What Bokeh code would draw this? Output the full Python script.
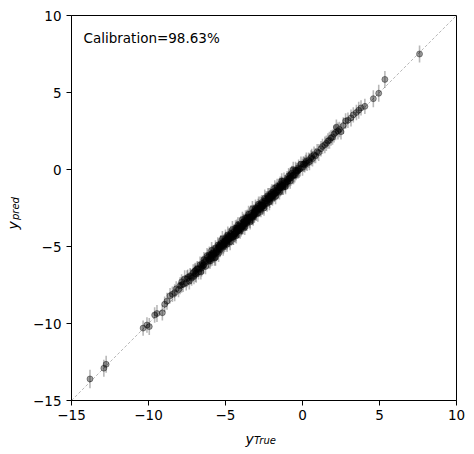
import math
from bokeh.plotting import figure
from bokeh.models import Range1d, FixedTicker, Label, ColumnDataSource
from bokeh.embed import file_html
from bokeh.resources import INLINE

# ---- data ----
y_true = [
    -13.8, -12.9, -12.75, -10.35, -10.1, -9.95, -9.6, -9.45, -9.1, -8.95,
    -8.8, -8.6, -8.45, -8.3, -8.2, -8.05, -7.95, -7.85, -7.75, -7.65,
    -7.55, -7.45, -7.35, -7.3, -7.2, -7.1, -7.05, -6.95, -6.9, -6.8,
    -6.75, -6.65, -6.6, -6.5, -6.45, -6.4, -6.3, -6.25, -6.2, -6.1,
    -6.05, -6.0, -5.95, -5.9, -5.85, -5.8, -5.75, -5.7, -5.65, -5.6,
    -5.55, -5.5, -5.45, -5.4, -5.35, -5.3, -5.25, -5.2, -5.15, -5.1,
    -5.05, -5.0, -4.95, -4.9, -4.85, -4.8, -4.75, -4.7, -4.65, -4.6,
    -4.55, -4.5, -4.45, -4.4, -4.35, -4.3, -4.25, -4.2, -4.15, -4.1,
    -4.05, -4.0, -3.95, -3.9, -3.85, -3.8, -3.75, -3.7, -3.65, -3.6,
    -3.55, -3.5, -3.45, -3.4, -3.35, -3.3, -3.25, -3.2, -3.15, -3.1,
    -3.05, -3.0, -2.95, -2.9, -2.85, -2.8, -2.75, -2.7, -2.65, -2.6,
    -2.55, -2.5, -2.45, -2.4, -2.35, -2.3, -2.25, -2.2, -2.15, -2.1,
    -2.05, -2.0, -1.95, -1.9, -1.85, -1.8, -1.75, -1.7, -1.65, -1.6,
    -1.55, -1.5, -1.45, -1.4, -1.35, -1.3, -1.2, -1.15, -1.1, -1.0,
    -0.95, -0.9, -0.85, -0.8, -0.7, -0.65, -0.6, -0.5, -0.45, -0.4,
    -0.3, -0.25, -0.15, -0.1, 0.0, 0.05, 0.15, 0.25, 0.3, 0.4,
    0.45, 0.55, 0.65, 0.75, 0.85, 0.95, 1.05, 1.2, 1.3, 1.45,
    1.55, 1.65, 1.75, 1.85, 1.95, 2.05, 2.15, 2.2, 2.3, 2.4,
    2.5, 2.65, 2.8, 2.95, 3.15, 3.3, 3.5, 3.65, 3.8, 4.05,
    4.6, 4.95, 5.35, 7.6, -6.85, -5.65, -4.8, -3.95, -3.05, -2.25,
    -5.95, -5.45, -4.65, -4.25, -3.65, -2.85, -2.05, -1.45, -1.25, -0.75,
    -6.55, -6.15, -5.78, -5.32, -4.98, -4.62, -4.28, -3.92, -3.58, -3.22,
    -2.88, -2.52, -2.18, -1.82, -1.48, -1.12, -0.78, -0.42, -7.5, -7.0,
    -5.6, -5.05, -4.45, -3.85, -3.25, -2.65, -2.05, -1.35, 0.2, 0.6,
    -6.95, -6.7, -6.35, -6.08, -5.88, -5.52, -5.22, -4.92, -4.72, -4.48,
    -4.18, -3.98, -3.72, -3.48, -3.28, -3.02, -2.78, -2.42, -2.12, -1.92,
    -1.68, -1.38, -1.08, -0.88, -0.58, -0.32, -5.12, -4.38, -3.62, -2.72,
    -6.42, -5.72, -5.02, -4.32, -3.82, -3.12, -2.32, -1.58, -0.98, -0.22,
    -7.85, -7.25, -6.55, -5.95, -5.42, -4.88, -4.12, -3.42, -2.62, -1.78,
    -5.3, -4.75, -4.2, -3.7, -3.15, -2.6, -2.0, -1.3, -0.6, 0.1,
]
y_pred = [
    -13.6, -12.9, -12.65, -10.3, -10.1, -10.2, -9.45, -9.35, -9.3, -8.75,
    -8.55, -8.2, -8.1, -8.0, -7.75, -7.8, -7.55, -7.3, -7.45, -7.1,
    -7.35, -7.0, -7.25, -6.9, -7.05, -6.7, -6.95, -6.55, -6.8, -6.45,
    -6.65, -6.2, -6.65, -6.1, -6.25, -5.85, -6.3, -5.9, -5.6, -5.95,
    -5.55, -5.95, -5.65, -5.25, -5.75, -5.4, -5.5, -5.75, -5.1, -5.4,
    -5.2, -4.9, -5.45, -4.95, -5.2, -4.8, -4.95, -4.5, -5.05, -4.7,
    -4.85, -4.45, -4.6, -4.85, -4.25, -4.55, -4.3, -4.7, -4.15, -4.3,
    -3.9, -4.4, -4.05, -4.15, -3.8, -4.3, -3.9, -3.6, -3.95, -3.65,
    -4.0, -3.5, -3.65, -3.25, -3.7, -3.4, -3.75, -3.15, -3.4, -3.15,
    -3.35, -2.9, -3.1, -3.4, -2.85, -3.05, -2.55, -3.1, -2.75, -2.8,
    -2.5, -2.85, -2.55, -2.85, -2.25, -2.5, -2.3, -2.6, -2.15, -2.35,
    -2.2, -2.5, -1.85, -2.2, -1.9, -2.2, -1.7, -1.9, -2.1, -1.7,
    -1.8, -1.5, -1.85, -1.45, -1.55, -1.2, -1.75, -1.35, -1.1, -1.4,
    -1.15, -1.45, -0.95, -1.15, -0.75, -1.15, -0.75, -0.85, -1.1, -0.65,
    -0.75, -0.4, -0.55, -0.75, -0.25, -0.4, 0.0, -0.35, -0.05, -0.1,
    -0.1, 0.1, 0.05, 0.35, 0.15, 0.35, 0.3, 0.55, 0.4, 0.6,
    0.5, 0.75, 0.7, 0.95, 0.9, 1.15, 1.1, 1.35, 1.5, 1.6,
    1.7, 1.85, 1.9, 2.05, 2.1, 2.3, 2.4, 2.75, 2.5, 2.6,
    2.45, 2.85, 3.15, 3.2, 3.35, 3.55, 3.7, 3.85, 4.0, 4.1,
    4.6, 4.95, 5.85, 7.5, -6.45, -5.7, -4.35, -3.75, -2.65, -1.9,
    -5.55, -5.05, -4.4, -3.9, -3.3, -2.6, -1.75, -1.2, -1.15, -0.55,
    -6.25, -5.7, -5.55, -4.85, -4.55, -4.45, -3.8, -3.7, -3.1, -3.0,
    -2.4, -2.35, -1.75, -1.6, -1.05, -0.95, -0.35, -0.2, -7.1, -6.6,
    -5.3, -4.65, -4.2, -3.4, -2.95, -2.3, -1.6, -1.0, 0.45, 0.85,
    -6.75, -6.45, -6.0, -5.85, -5.45, -5.35, -4.9, -4.75, -4.35, -4.35,
    -3.85, -3.85, -3.45, -3.2, -3.1, -2.75, -2.55, -2.05, -1.95, -1.7,
    -1.5, -1.1, -0.85, -0.6, -0.4, -0.05, -4.95, -4.2, -3.5, -2.45,
    -6.2, -5.45, -4.7, -4.1, -3.55, -2.95, -2.05, -1.35, -0.8, 0.0,
    -7.5, -6.95, -6.4, -5.8, -5.1, -4.6, -3.95, -3.3, -2.4, -1.55,
    -5.05, -4.5, -4.0, -3.5, -2.9, -2.4, -1.8, -1.05, -0.35, 0.35,
]
y_std = [
    0.6, 0.55, 0.55, 0.5, 0.5, 0.55, 0.5, 0.55, 0.5, 0.5,
    0.55, 0.5, 0.5, 0.55, 0.5, 0.5, 0.55, 0.5, 0.5, 0.55,
    0.5, 0.5, 0.55, 0.5, 0.5, 0.55, 0.5, 0.5, 0.55, 0.5,
    0.5, 0.55, 0.5, 0.5, 0.55, 0.5, 0.5, 0.55, 0.5, 0.5,
    0.55, 0.5, 0.5, 0.55, 0.5, 0.5, 0.55, 0.5, 0.5, 0.55,
    0.5, 0.5, 0.55, 0.5, 0.5, 0.55, 0.5, 0.5, 0.55, 0.5,
    0.5, 0.55, 0.5, 0.5, 0.55, 0.5, 0.5, 0.55, 0.5, 0.5,
    0.55, 0.5, 0.5, 0.55, 0.5, 0.5, 0.55, 0.5, 0.5, 0.55,
    0.5, 0.5, 0.55, 0.5, 0.5, 0.55, 0.5, 0.5, 0.55, 0.5,
    0.5, 0.55, 0.5, 0.5, 0.55, 0.5, 0.5, 0.55, 0.5, 0.5,
    0.55, 0.5, 0.5, 0.55, 0.5, 0.5, 0.55, 0.5, 0.5, 0.55,
    0.5, 0.5, 0.55, 0.5, 0.5, 0.55, 0.5, 0.5, 0.55, 0.5,
    0.5, 0.55, 0.5, 0.5, 0.55, 0.5, 0.5, 0.55, 0.5, 0.5,
    0.55, 0.5, 0.5, 0.55, 0.5, 0.5, 0.55, 0.5, 0.5, 0.55,
    0.5, 0.5, 0.55, 0.5, 0.5, 0.55, 0.5, 0.5, 0.55, 0.5,
    0.5, 0.55, 0.5, 0.5, 0.55, 0.5, 0.5, 0.55, 0.5, 0.5,
    0.55, 0.5, 0.5, 0.55, 0.5, 0.5, 0.55, 0.5, 0.5, 0.55,
    0.5, 0.5, 0.55, 0.5, 0.5, 0.55, 0.5, 0.5, 0.55, 0.5,
    0.5, 0.55, 0.5, 0.5, 0.55, 0.5, 0.5, 0.55, 0.5, 0.5,
    0.55, 0.55, 0.55, 0.55, 0.5, 0.55, 0.5, 0.5, 0.55, 0.5,
    0.5, 0.55, 0.5, 0.5, 0.55, 0.5, 0.5, 0.55, 0.5, 0.5,
    0.55, 0.5, 0.5, 0.55, 0.5, 0.5, 0.55, 0.5, 0.5, 0.55,
    0.5, 0.5, 0.55, 0.5, 0.5, 0.55, 0.5, 0.5, 0.55, 0.5,
    0.5, 0.55, 0.5, 0.5, 0.55, 0.5, 0.5, 0.55, 0.5, 0.5,
    0.55, 0.5, 0.5, 0.55, 0.5, 0.5, 0.55, 0.5, 0.5, 0.55,
    0.5, 0.5, 0.55, 0.5, 0.5, 0.55, 0.5, 0.5, 0.55, 0.5,
    0.5, 0.55, 0.5, 0.5, 0.55, 0.5, 0.5, 0.55, 0.5, 0.5,
    0.55, 0.5, 0.5, 0.55, 0.5, 0.5, 0.55, 0.5, 0.5, 0.55,
    0.5, 0.5, 0.55, 0.5, 0.5, 0.55, 0.5, 0.5, 0.55, 0.5,
    0.5, 0.55, 0.5, 0.5, 0.55, 0.5, 0.5, 0.55, 0.5, 0.5,
]
diag = [-15, 10]
ticks = [-15, -10, -5, 0, 5, 10]
tick_labels = {t: str(t).replace("-", "\u2212") for t in ticks}
calib_text = "Calibration=98.63%"

FONT = "DejaVu Sans"

n = min(len(y_true), len(y_pred), len(y_std))
src = ColumnDataSource(dict(
    x=y_true[:n], y=y_pred[:n],
    lo=[y_pred[i] - y_std[i] for i in range(n)],
    hi=[y_pred[i] + y_std[i] for i in range(n)],
))

p = figure(
    frame_width=385, frame_height=385,
    min_border_left=71, min_border_right=18, min_border_top=15, min_border_bottom=54,
    x_range=Range1d(-15, 10), y_range=Range1d(-15, 10),
    output_backend="svg", toolbar_location=None,
)
p.width = 474
p.height = 454
p.grid.visible = False
p.outline_line_color = "black"
p.outline_line_width = 1
p.outline_line_alpha = 1

for ax in (p.xaxis[0], p.yaxis[0]):
    ax.ticker = FixedTicker(ticks=ticks)
    ax.major_label_overrides = tick_labels
    ax.major_label_text_font = FONT
    ax.major_label_text_font_size = "13.5px"
    ax.major_label_text_color = "black"
    ax.major_tick_out = 5
    ax.major_tick_in = 0
    ax.minor_tick_out = 0
    ax.minor_tick_in = 0
    ax.major_label_standoff = 4
    ax.axis_line_color = "black"
    ax.major_tick_line_color = "black"
p.yaxis[0].major_label_standoff = 5

# identity line
p.line(diag, diag, line_color="gray", line_width=0.7, line_alpha=0.8, line_dash="3 2")

# error bars and points
p.segment(x0="x", y0="lo", x1="x", y1="hi", source=src,
          line_color="black", line_alpha=0.28, line_width=1.6)
p.scatter(x="x", y="y", source=src, size=6, marker="circle",
          fill_color="black", fill_alpha=0.38, line_color="black", line_alpha=0.38)

# calibration annotation
p.add_layout(Label(x=12, y=362.5, x_units="screen", y_units="screen", text=calib_text,
                   text_font=FONT, text_font_size="13.5px", text_color="black",
                   text_baseline="alphabetic", text_align="left"))

# x-axis label: y_True (labels placed in side panels so they are not clipped)
p.add_layout(Label(x=174, y=0, x_units="screen", y_units="screen", text="y",
                   text_font=FONT, text_font_style="italic", text_font_size="14px",
                   text_baseline="alphabetic", text_align="left", text_color="black"), "below")
p.add_layout(Label(x=182.5, y=8.6, x_units="screen", y_units="screen", text="True",
                   text_font=FONT, text_font_style="italic", text_font_size="10px",
                   text_baseline="alphabetic", text_align="left", text_color="black"), "below")

# y-axis label: y_pred (rotated)
p.add_layout(Label(x=-1.7, y=171, x_units="screen", y_units="screen", text="y",
                   text_font=FONT, text_font_style="italic", text_font_size="14px",
                   text_baseline="alphabetic", text_align="left", angle=math.pi / 2,
                   text_color="black"), "left")
p.add_layout(Label(x=11.9, y=180.5, x_units="screen", y_units="screen", text="pred",
                   text_font=FONT, text_font_style="italic", text_font_size="10px",
                   text_baseline="alphabetic", text_align="left", angle=math.pi / 2,
                   text_color="black"), "left")

open("out.html", "w").write(file_html(p, INLINE))
